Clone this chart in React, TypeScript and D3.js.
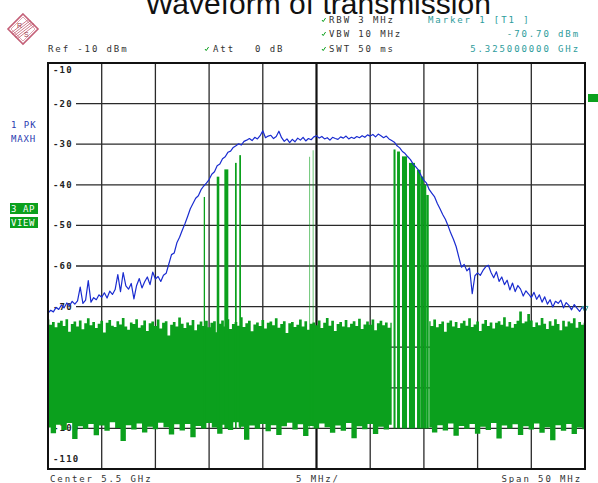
import React from "react";
import * as d3 from "d3";

const W = 598;
const H = 483;

// frequency offset from 5.5 GHz centre, MHz (span 50 MHz)
const spanMHz = [-25, 25];
const levelDbm = [-110, -10];
const yTicks = [-10, -20, -30, -40, -50, -60, -70, -80, -90, -100, -110];
const xDivs = [-25, -20, -15, -10, -5, 0, 5, 10, 15, 20, 25];

// trace 1: PK MAXH, one value every 0.25 MHz
const holdStep = 0.25;
const maxHoldDbm = [
  -71.6, -70.9, -71.3, -70.2, -70.7, -69.6, -70.3, -69.1, -69.8, -68.7,
  -69.4, -68.6, -65.2, -69.2, -68.4, -63.6, -68.9, -67.8, -68.3, -67.1,
  -67.7, -66.6, -67.9, -66.2, -67.0, -65.8, -62.1, -66.3, -61.6, -64.9,
  -65.7, -64.3, -68.1, -64.8, -63.1, -65.4, -63.9, -62.7, -64.6, -61.5,
  -63.2, -62.6, -63.8, -62.3, -61.8, -59.5, -57.2, -56.8, -54.3, -52.9,
  -51.2, -49.6, -47.8, -45.9, -44.6, -43.3, -42.7, -41.2, -40.3, -39.6,
  -38.7, -37.4, -36.8, -35.3, -34.9, -33.6, -33.1, -32.0, -31.7, -30.8,
  -30.4, -29.9, -30.2, -29.3, -29.0, -28.6, -29.1, -28.3, -28.7, -27.9,
  -26.7, -28.4, -28.0, -27.8, -28.6, -28.1, -26.8, -28.4, -29.3, -28.7,
  -29.6, -28.8, -29.4, -28.5, -29.0, -28.3, -29.2, -28.6, -28.9, -28.2,
  -27.9, -28.5, -28.1, -28.7, -28.4, -29.0, -28.3, -28.6, -28.8, -28.2,
  -28.5, -28.0, -28.7, -28.3, -28.6, -28.1, -28.4, -27.9, -28.3, -27.7,
  -28.0, -27.6, -28.2, -27.5, -27.9, -28.4, -28.0, -28.7, -29.1, -29.5,
  -30.4, -30.9, -31.8, -32.3, -33.1, -33.8, -34.9, -35.6, -36.4, -37.8,
  -38.9, -39.6, -41.2, -42.1, -43.0, -44.6, -45.9, -47.3, -48.5, -50.1,
  -51.9, -53.4, -55.2, -57.8, -60.3, -59.6, -61.2, -60.5, -66.8, -62.4,
  -61.7, -62.3, -61.1, -60.2, -59.8, -61.6, -62.9, -61.4, -63.8, -62.7,
  -64.6, -63.5, -65.9, -64.2, -66.3, -64.8, -65.7, -67.4, -66.1, -66.9,
  -67.8, -66.5, -68.2, -67.1, -68.9, -67.6, -69.4, -68.3, -70.1, -68.7,
  -69.2, -68.4, -70.3, -69.0, -69.7, -70.8, -69.5, -70.4, -71.2, -70.1, -70.7,
];

// trace 3: AP VIEW noise band, upper edge every 0.25 MHz (null = burst zone)
const viewTopStep = 0.25;
const viewTopDbm: (number | null)[] = [
  -73.2, -74.5, -73.8, -75.1, -74.0, -73.5, -74.8, -73.1, -76.2, -74.3,
  -73.7, -74.9, -73.4, -75.6, -74.1, -72.9, -74.6, -73.8, -75.3, -74.2,
  -73.5, -76.4, -74.0, -73.3, -74.7, -75.0, -73.6, -74.4, -72.8, -74.9,
  -75.7, -73.9, -74.3, -73.1, -75.2, -74.6, -73.4, -76.0, -74.1, -73.7,
  -74.8, -73.2, -75.4, -74.0, -73.6, -77.1, -74.5, -73.8, -74.9, -72.7,
  -74.2, -75.3, -73.9, -74.6, -73.3, -75.8, -74.4, -73.7, -74.8, -73.5,
  -75.1, -74.0, -73.6, -76.3, -74.2, -73.4, -74.9, -73.1, -75.5, -74.3,
  -73.8, -74.7, -72.6, -75.0, -74.1, -73.5, -76.1, -74.4, -73.9, -74.8,
  -73.3, -75.4, -74.0, -73.7, -74.6, -72.9, -75.2, -74.3, -73.6, -76.5,
  -74.1, -73.8, -75.0, -74.5, -73.2, -74.9, -73.6, -75.7, -74.2, -73.9,
  -74.6, -73.4, -75.3, -74.0, -72.8, -74.7, -73.5, -76.0, -74.3, -73.8,
  -74.9, -73.3, -75.1, -74.2, -73.6, -74.8, -73.0, -75.5, -74.4, -73.7,
  -74.5, -73.2, -75.8, -74.1, -73.5, -74.6, -73.9, -75.2, -74.0,
  null, null, null, null, null, null, null, null, null, null, null, null, null,
  -73.6, -74.8, -73.2, -75.1, -74.3, -73.7, -76.2, -74.0,
  -73.4, -74.9, -73.8, -75.3, -74.1, -73.5, -74.7, -72.9, -75.0, -74.4,
  -73.7, -76.0, -74.2, -73.3, -74.8, -73.9, -75.4, -74.0, -73.6, -74.5,
  -72.6, -74.9, -73.8, -75.2, -74.3, -73.5, -71.2, -74.1, -73.7, -71.8,
  -73.4, -75.0, -73.9, -74.6, -72.8, -74.2, -75.5, -73.6, -74.7, -73.1,
  -74.3, -75.8, -73.5, -74.9, -73.7, -74.1, -72.9, -75.2, -73.8, -74.5, -74.0,
];

// lower edge of the noise band every 0.5 MHz
const viewBottomStep = 0.5;
const viewBottomDbm: (number | null)[] = [
  -99.8, -101.2, -99.1, -100.4, -98.7, -102.6, -99.5, -100.1, -98.9, -101.7,
  -99.3, -100.6, -98.5, -99.9, -103.1, -99.2, -100.3, -98.8, -101.0, -99.6,
  -100.2, -98.6, -99.7, -101.5, -99.0, -100.5, -98.9, -102.2, -99.4, -100.0,
  -98.7, -99.8, -101.3, -99.1, -100.4, -98.5, -99.6, -102.8, -99.3, -100.1,
  -98.9, -100.7, -99.2, -101.6, -99.5, -98.6, -100.3, -99.0, -101.9, -99.4,
  -100.0, -98.8, -99.7, -101.1, -99.3, -100.6, -98.7, -102.4, -99.5, -100.2,
  -98.9, -101.4, -99.6, -100.3, -99.1,
  null, null, null, null, null, null,
  -99.8, -101.0, -99.2, -100.5, -98.8, -101.8, -99.4, -100.1, -98.9,
  -101.3, -99.6, -100.4, -98.7, -102.5, -99.3, -100.0, -99.0, -101.6, -99.5,
  -100.3, -98.8, -101.1, -99.7, -102.9, -99.2, -100.6, -98.9, -101.4, -99.8, -100.2,
];

// burst lines of trace 3: start MHz, end MHz, peak dBm
const burstF0 = [-10.5, -9.29, -8.58, -7.59, -7.19, -0.69, -0.36, 7.17, 7.5, 7.96, 8.61, 9.36, 9.7, 9.98, 10.22];
const burstF1 = [-10.38, -9.05, -8.21, -7.43, -7.03, -0.6, -0.27, 7.36, 7.77, 8.43, 9.17, 9.7, 9.98, 10.22, 10.45];
const burstTop = [-43.0, -38.0, -36.2, -34.6, -32.7, -33.1, -31.5, -31.3, -31.8, -33.0, -34.6, -36.3, -38.0, -40.0, -42.5];
const burstFloor = -100;

const markerMHz = 25;
const markerDbm = -70.7;

const GREEN = "#0ba01d";
const BLUE = "#1a2cd0";
const TEAL = "#2e9c9c";
const MONO = "DejaVu Sans Mono, monospace";

const x = d3.scaleLinear().domain(spanMHz).range([48, 585]);
const y = d3.scaleLinear().domain(levelDbm).range([469, 63]);

type P = { f: number; v: number };

function bandPath() {
  const top = viewTopDbm.map((v, i) => ({ f: spanMHz[0] + i * viewTopStep, v }));
  const bot = viewBottomDbm.map((v, j) => ({ f: spanMHz[0] + j * viewBottomStep, v }));
  const runs: P[][] = [];
  let cur: P[] = [];
  top.forEach((p) => {
    if (p.v == null) {
      if (cur.length) runs.push(cur);
      cur = [];
    } else cur.push(p as P);
  });
  if (cur.length) runs.push(cur);
  const step = d3
    .line<P>()
    .x((p) => x(p.f))
    .y((p) => y(p.v))
    .curve(d3.curveStep);
  return runs
    .map((run) => {
      const fa = run[0].f;
      const fb = run[run.length - 1].f;
      const b = bot
        .filter((p) => p.v != null && p.f >= fa - 1e-6 && p.f <= fb + 1e-6)
        .reverse() as P[];
      return step(run) + "L" + (step(b) || "").slice(1) + "Z";
    })
    .join("");
}

const Mono = ({ x: tx, y: ty, fill = "#333", anchor = "start", spacing = 1.9, children }: any) => (
  <text x={tx} y={ty} fill={fill} textAnchor={anchor} fontFamily={MONO} fontSize={9} letterSpacing={spacing}>
    {children}
  </text>
);

const Tick = ({ x: tx, y: ty }: any) => (
  <path d={`M${tx},${ty - 2} l1.2,1.6 l2.4,-3.6`} fill="none" stroke={GREEN} strokeWidth={1} />
);

export default function App() {
  const hold = maxHoldDbm.map((v, i) => ({ f: spanMHz[0] + i * holdStep, v }));
  const holdLine = d3
    .line<P>()
    .x((p) => x(p.f))
    .y((p) => y(p.v));
  const [x0, x1] = x.range();
  const [yb, yt] = y.range();

  return (
    <svg width={W} height={H} style={{ position: "absolute", left: 0, top: 0, background: "#fff" }}>
      <rect width={W} height={H} fill="#fff" />
      <text x={318} y={14} textAnchor="middle" fontFamily="Liberation Sans, Arial, sans-serif" fontSize={30} fill="#111">
        Waveform of transmission
      </text>

      {/* R&S logo */}
      <g>
        <path d="M23,14 L38,29 L23,44 L8,29 Z" fill="#fff" stroke="#c46078" strokeWidth={1.6} />
        <path d="M23,17 L35,29 L23,41 L11,29 Z" fill="none" stroke="#d890a0" strokeWidth={0.8} />
        {[-3, -1.5, 0, 1.5, 3].map((o) => (
          <line key={o} x1={14 + o} y1={36 + o} x2={32 + o} y2={22 + o} stroke="#c05a70" strokeWidth={0.8} />
        ))}
        <text x={17} y={28} fontSize={7} fontFamily="Liberation Sans, Arial" fill="#a04050">R</text>
        <text x={24} y={37} fontSize={7} fontFamily="Liberation Sans, Arial" fill="#a04050">S</text>
      </g>

      {/* header */}
      <Mono x={48} y={52}>Ref -10 dBm</Mono>
      <Tick x={205} y={51} />
      <Mono x={213} y={52}>Att</Mono>
      <Mono x={255} y={52}>0 dB</Mono>
      <Tick x={322} y={22} />
      <Mono x={329} y={23}>RBW 3 MHz</Mono>
      <Tick x={322} y={36} />
      <Mono x={329} y={37}>VBW 10 MHz</Mono>
      <Tick x={322} y={51} />
      <Mono x={329} y={52}>SWT 50 ms</Mono>
      <Mono x={428} y={23} fill={TEAL}>Marker 1 [T1 ]</Mono>
      <Mono x={580} y={37} fill={TEAL} anchor="end">-70.70 dBm</Mono>
      <Mono x={580} y={52} fill={TEAL} anchor="end">5.325000000 GHz</Mono>

      {/* trace labels */}
      <Mono x={11} y={128} fill="#2a3ab0" spacing={1}>1 PK</Mono>
      <Mono x={11} y={142} fill="#2a3ab0" spacing={0.8}>MAXH</Mono>
      <rect x={10} y={203} width={28} height={11} fill={GREEN} />
      <rect x={10} y={217} width={28} height={11} fill={GREEN} />
      <Mono x={11} y={212} fill="#fff" spacing={0.6}>3 AP</Mono>
      <Mono x={11} y={226} fill="#fff" spacing={0.6}>VIEW</Mono>
      <rect x={588} y={94} width={10} height={8} fill={GREEN} />

      {/* grid */}
      {xDivs.slice(1, -1).map((d) => (
        <line key={d} x1={x(d)} x2={x(d)} y1={yt} y2={yb} stroke={d === 0 ? "#111" : "#2a2a2a"} strokeWidth={d === 0 ? 2.2 : 1.3} />
      ))}
      {yTicks.slice(1, -1).map((t) => (
        <line key={t} x1={76} x2={x1} y1={y(t)} y2={y(t)} stroke="#2a2a2a" strokeWidth={1.3} />
      ))}
      {yTicks.map((t, i) => (
        <text
          key={t}
          x={53}
          y={i === 0 ? y(t) + 10 : i === yTicks.length - 1 ? y(t) - 7 : y(t) + 3}
          fontFamily={MONO}
          fontSize={9}
          fontWeight="bold"
          letterSpacing={1.2}
          fill="#222"
        >
          {t}
        </text>
      ))}

      {/* trace 3 */}
      <path d={bandPath()} fill={GREEN} />
      {burstF0.map((f0, i) => (
        <rect
          key={i}
          x={x(f0)}
          width={Math.max(1, x(burstF1[i]) - x(f0))}
          y={y(burstTop[i])}
          height={y(burstFloor) - y(burstTop[i])}
          fill={GREEN}
          opacity={Math.abs(f0) < 1 ? 0.6 : 1}
        />
      ))}

      {/* trace 1 */}
      <path d={holdLine(hold) || ""} fill="none" stroke={BLUE} strokeWidth={1.2} strokeLinejoin="round" />
      <path
        d={`M${x(markerMHz) - 3},${y(markerDbm) - 3} l3,6 l3,-6 Z`}
        fill="none"
        stroke={TEAL}
        strokeWidth={1}
      />

      <rect x={x0} y={yt} width={x1 - x0} height={yb - yt} fill="none" stroke="#111" strokeWidth={2} />

      {/* footer */}
      <Mono x={50} y={482}>Center 5.5 GHz</Mono>
      <Mono x={296} y={482}>5 MHz/</Mono>
      <Mono x={582} y={482} anchor="end">Span 50 MHz</Mono>
    </svg>
  );
}
